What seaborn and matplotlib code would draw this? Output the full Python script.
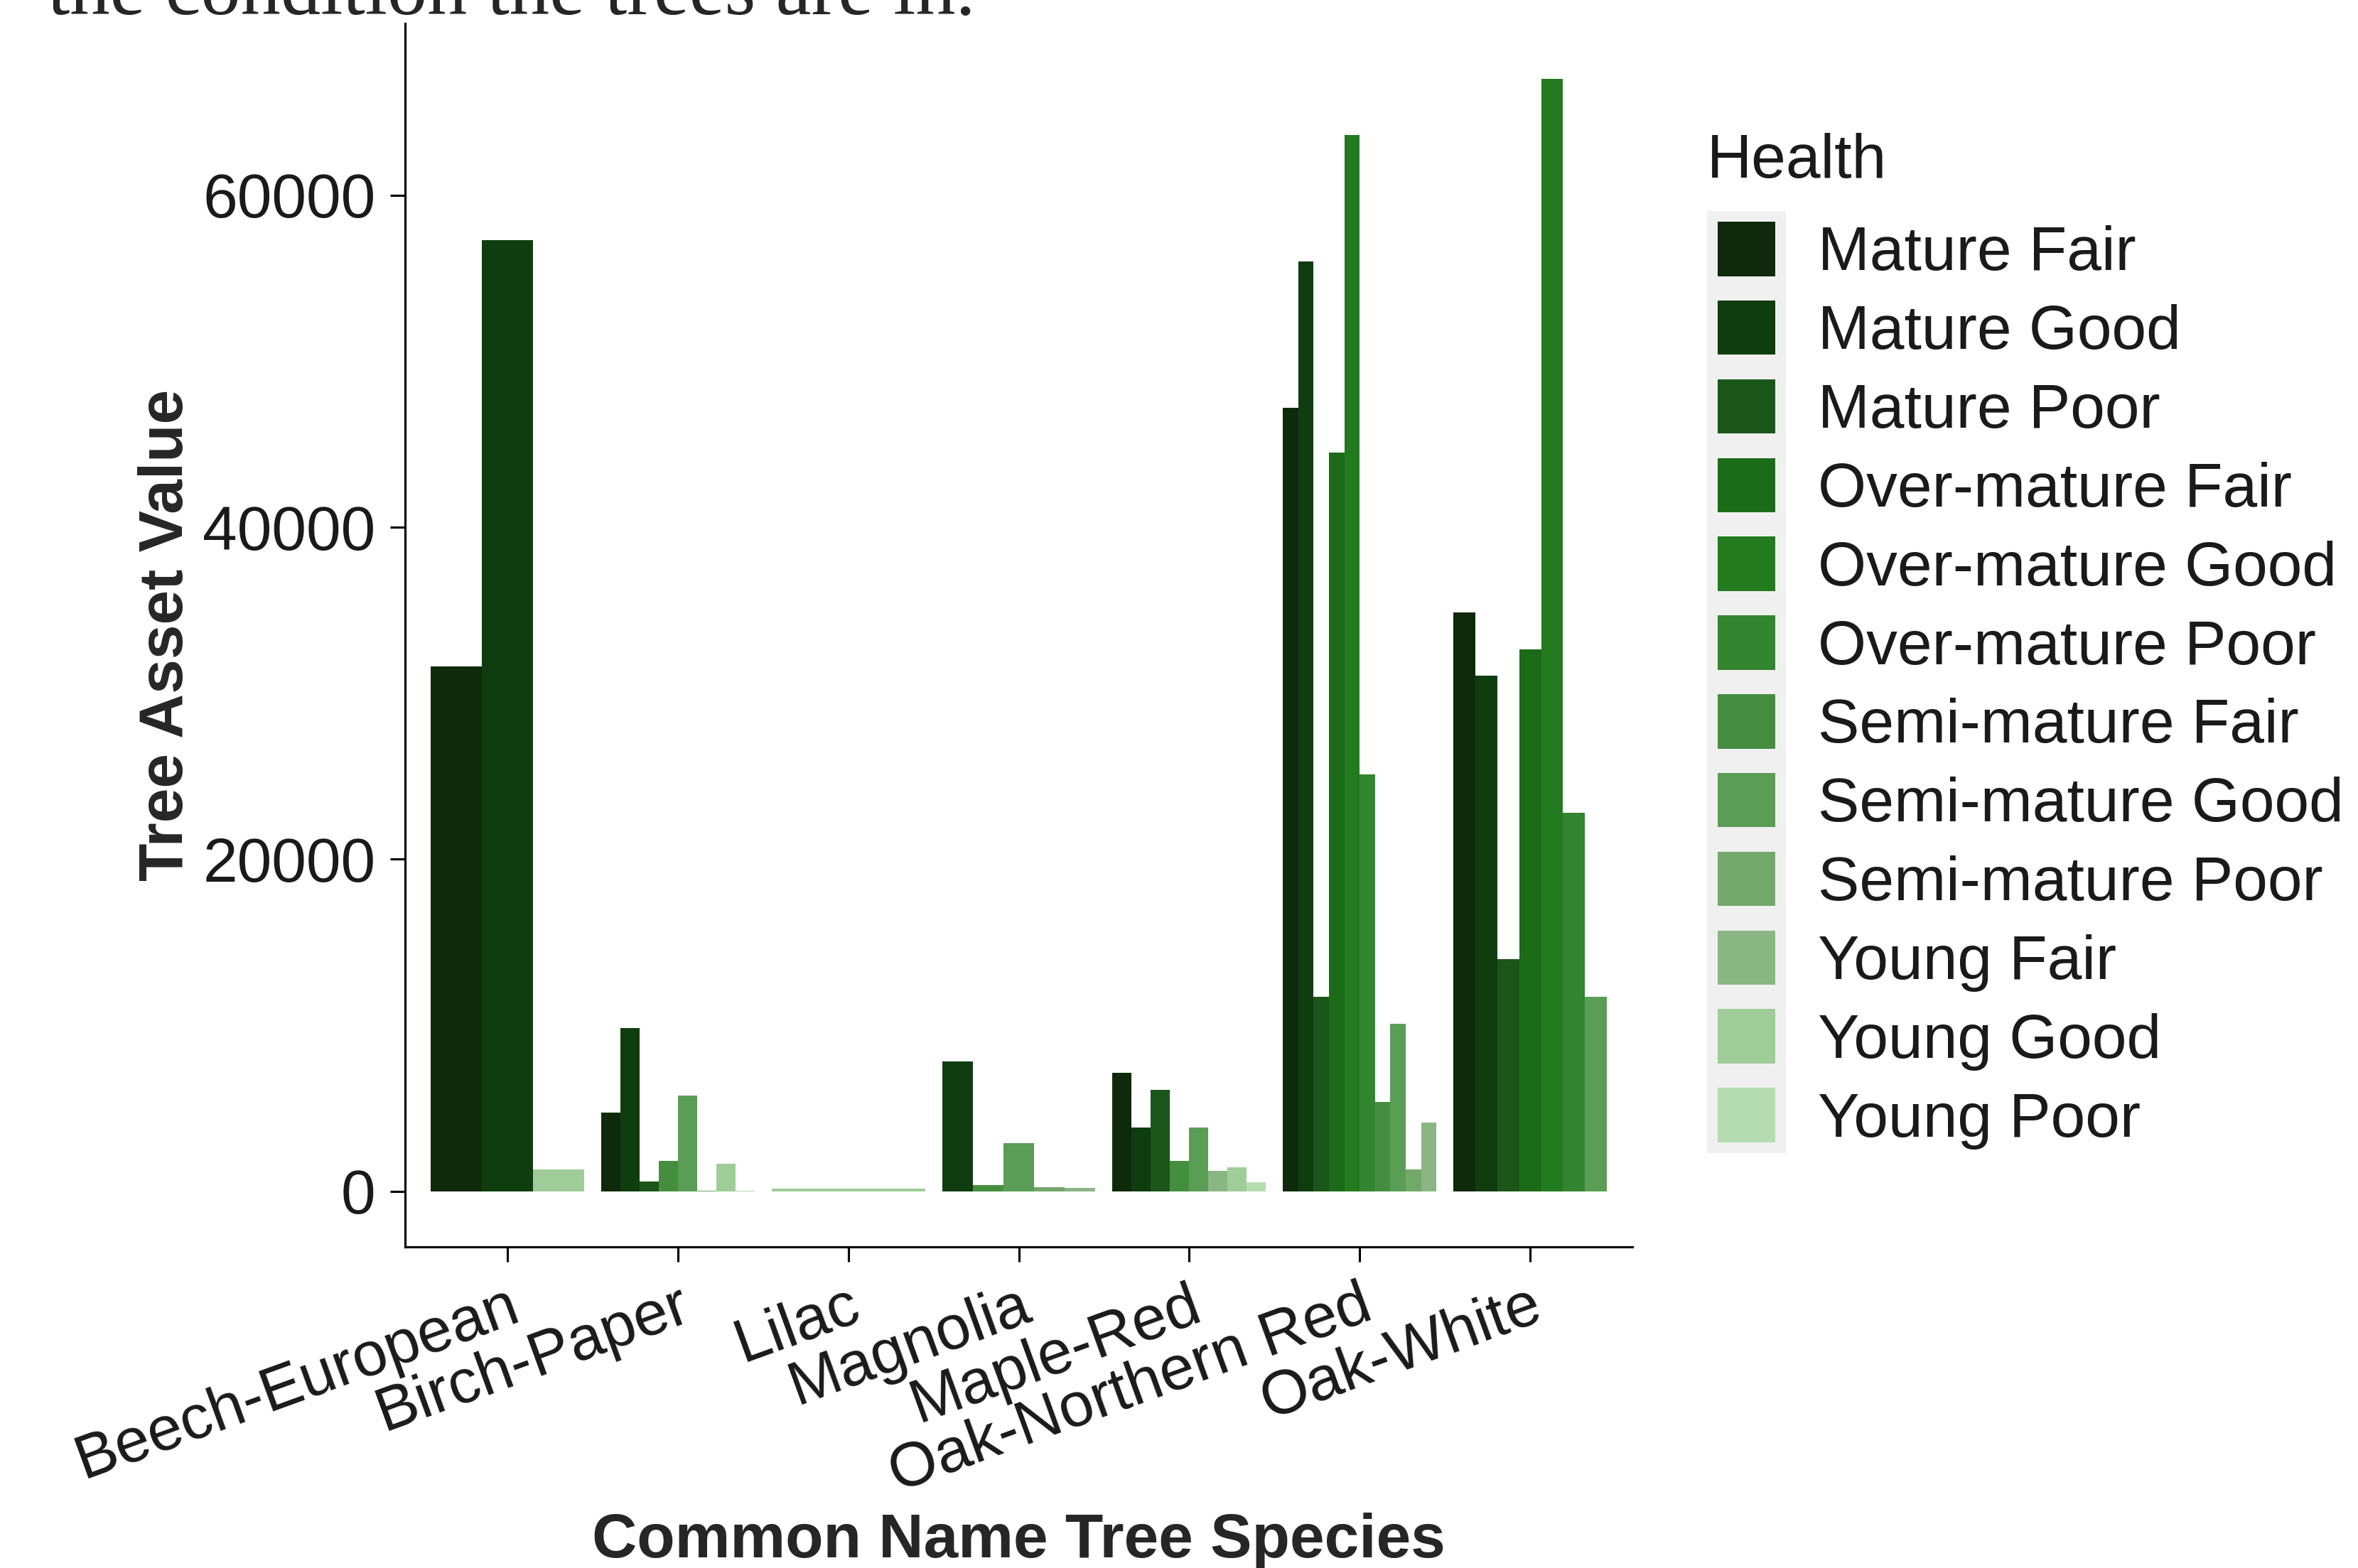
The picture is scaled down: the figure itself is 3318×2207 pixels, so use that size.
import pandas as pd
import seaborn as sns
import matplotlib.pyplot as plt
from matplotlib.patches import Patch, Rectangle

# Espécies (eixo x)
species = ["Beech-European", "Birch-Paper", "Lilac", "Magnolia",
           "Maple-Red", "Oak-Northern Red", "Oak-White"]

# Classes de saúde (legenda) e cores
health_levels = ["Mature Fair", "Mature Good", "Mature Poor",
                 "Over-mature Fair", "Over-mature Good", "Over-mature Poor",
                 "Semi-mature Fair", "Semi-mature Good", "Semi-mature Poor",
                 "Young Fair", "Young Good", "Young Poor"]
health_colors = ["#0e2a0b", "#0f3d10", "#1a561a", "#1c6b19", "#237a1f", "#33852f",
                 "#458e40", "#5a9d55", "#72a96b", "#8ab684", "#a0cc99", "#b5ddb1"]

# Valores, por espécie
beech_health = ["Mature Fair", "Mature Good", "Young Good"]
beech_value = [31600, 57300, 1300]

birch_health = ["Mature Fair", "Mature Good", "Mature Poor", "Semi-mature Fair",
                "Semi-mature Good", "Semi-mature Poor", "Young Good", "Young Poor"]
birch_value = [4750, 9850, 570, 1850, 5750, 40, 1650, 40]

lilac_health = ["Young Good"]
lilac_value = [150]

magnolia_health = ["Mature Good", "Semi-mature Fair", "Semi-mature Good",
                   "Semi-mature Poor", "Young Fair"]
magnolia_value = [7800, 370, 2900, 230, 200]

maple_health = ["Mature Fair", "Mature Good", "Mature Poor", "Semi-mature Fair",
                "Semi-mature Good", "Young Fair", "Young Good", "Young Poor"]
maple_value = [7150, 3850, 6100, 1850, 3850, 1250, 1450, 550]

oak_nr_health = ["Mature Fair", "Mature Good", "Mature Poor", "Over-mature Fair",
                 "Over-mature Good", "Over-mature Poor", "Semi-mature Fair",
                 "Semi-mature Good", "Semi-mature Poor", "Young Fair"]
oak_nr_value = [47200, 56000, 11700, 44500, 63650, 25100, 5400, 10100, 1300, 4150]

oak_white_health = ["Mature Fair", "Mature Good", "Mature Poor", "Over-mature Fair",
                    "Over-mature Good", "Over-mature Poor", "Semi-mature Good"]
oak_white_value = [34850, 31050, 13970, 32650, 67000, 22800, 11700]

per_species = [(beech_health, beech_value), (birch_health, birch_value),
               (lilac_health, lilac_value), (magnolia_health, magnolia_value),
               (maple_health, maple_value), (oak_nr_health, oak_nr_value),
               (oak_white_health, oak_white_value)]

rows = []
for sp, (hs, vs) in zip(species, per_species):
    for h, v in zip(hs, vs):
        rows.append({"species": sp, "health": h, "value": v})
df = pd.DataFrame(rows)

palette = dict(zip(health_levels, health_colors))

sns.set_style("ticks")
plt.rcParams["font.family"] = ["Liberation Sans", "DejaVu Sans"]

W, H = 3318, 2207
fig = plt.figure(figsize=(W / 300, H / 300), dpi=300)
ax = fig.add_axes([570 / W, 1 - 1755 / H, 1727 / W, 1722 / H])

# dodge estilo ggplot: largura dividida entre os grupos presentes em cada espécie
for sp, (hs, vs) in zip(species, per_species):
    sub = df[df["species"] == sp]
    present = [h for h in health_levels if h in hs]
    sns.barplot(data=sub, x="species", y="value", hue="health", hue_order=present,
                order=species, palette=palette, width=0.9, saturation=1,
                errorbar=None, linewidth=0, legend=False, ax=ax)

ymax = df["value"].max()
ax.set_ylim(-0.05 * ymax, 1.05 * ymax)
ax.set_xlim(-0.6, len(species) - 0.4)
ax.set_yticks([0, 20000, 40000, 60000])
ax.set_yticklabels(["0", "20000", "40000", "60000"])

sns.despine(ax=ax)
for s in ["left", "bottom"]:
    ax.spines[s].set_linewidth(0.75)
    ax.spines[s].set_color("black")
ax.tick_params(axis="both", length=5, width=0.75, color="black",
               labelsize=21, labelcolor="#1a1a1a", pad=5)
plt.setp(ax.get_xticklabels(), rotation=20, ha="right", va="top",
         rotation_mode="anchor")

ax.set_xlabel("Common Name Tree Species", fontsize=21, fontweight="bold", va="center")
ax.set_ylabel("Tree Asset Value", fontsize=21, fontweight="bold", va="center")
ax.xaxis.set_label_coords(0.5, -(2170 - 1755) / 1722)
ax.yaxis.set_label_coords(-(570 - 235) / 1727, 0.5)

# legenda: título separado + chaves
fig.text(2402 / W, 1 - 250 / H, "Health", fontsize=21, color="#1a1a1a",
         ha="left", va="baseline")
handles = [Patch(facecolor=c, edgecolor="none", label=h)
           for h, c in zip(health_levels, health_colors)]
leg = fig.legend(handles=handles, loc="upper left",
                 bbox_to_anchor=(2417 / W, 1 - 312 / H), frameon=False,
                 fontsize=21, handlelength=0.93, handleheight=0.97,
                 labelspacing=0.28, handletextpad=0.68,
                 borderpad=0, borderaxespad=0)
for t in leg.get_texts():
    t.set_color("#1a1a1a")

# fundo cinza atrás das chaves da legenda
fig.canvas.draw()
boxes = [h.get_window_extent() for h in leg.legend_handles]
x0 = min(b.x0 for b in boxes) - 15
x1 = max(b.x1 for b in boxes) + 15
y0 = min(b.y0 for b in boxes) - 15
y1 = max(b.y1 for b in boxes) + 15
fig.patches.append(Rectangle((x0 / W, y0 / H), (x1 - x0) / W, (y1 - y0) / H,
                             transform=fig.transFigure, facecolor="#f0f0f0",
                             edgecolor="none", zorder=0))

# texto cortado do documento original no topo
fig.text(67 / W, 1 - 20 / H, "the condition the trees are in.",
         fontfamily="Liberation Serif", fontsize=27, va="baseline", ha="left")

fig.savefig("out.png", dpi=300)
